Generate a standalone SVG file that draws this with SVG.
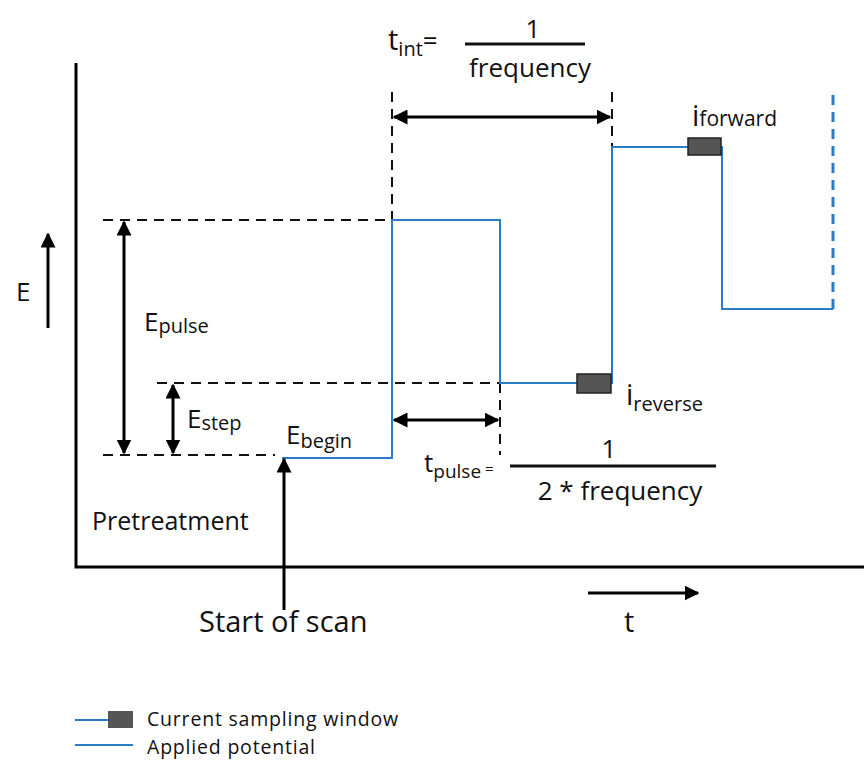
<svg xmlns="http://www.w3.org/2000/svg" width="864" height="763" viewBox="0 0 864 763">
<defs>
<marker id="ah" viewBox="0 0 10 10" refX="9" refY="5" markerWidth="15" markerHeight="15" markerUnits="userSpaceOnUse" orient="auto-start-reverse">
<path d="M0,0 L10,5 L0,10 z" fill="#000"/>
</marker>
<style>
text{font-family:"Open Sans","Noto Sans","Liberation Sans",sans-serif;fill:#111}
.t{font-size:26px}
.b{font-size:29px}
.s{font-size:20px}
.lg{font-size:19.5px;letter-spacing:0.8px}
.ax{stroke:#000;stroke-width:3;fill:none}
.dash{stroke:#111;stroke-width:2;stroke-dasharray:10 7;fill:none}
.arr{stroke:#000;stroke-width:3;fill:none}
.blue{stroke:#2b7cc7;stroke-width:2;fill:none}
.win{fill:#555;stroke:#222;stroke-width:1.5}
.frac{stroke:#111;stroke-width:3}
</style>
</defs>
<g id="axes">
<polyline class="ax" points="76,63 76,567 864,567"/>
</g>
<g id="guides">
<line class="dash" x1="103" y1="220" x2="392" y2="220"/>
<line class="dash" x1="157" y1="383" x2="500" y2="383"/>
<line class="dash" x1="103" y1="455" x2="275" y2="455"/>
<line class="dash" x1="392" y1="92" x2="392" y2="220"/>
<line class="dash" x1="612" y1="92" x2="612" y2="147"/>
<line class="dash" x1="500" y1="383" x2="500" y2="455"/>
</g>
<g id="potential">
<polyline class="blue" points="282,458 392,458 392,220 500,220 500,383 612,383 612,147 722,147 722,309 833,309"/>
<line x1="833" y1="309" x2="833" y2="92" stroke="#2b7cc7" stroke-width="3" stroke-dasharray="10 7"/>
</g>
<g id="windows">
<rect class="win" x="577" y="374" width="34" height="19"/>
<rect class="win" x="688" y="138" width="33" height="17"/>
</g>
<g id="connectors">
<line class="arr" x1="48" y1="328" x2="48" y2="234" marker-end="url(#ah)"/>
<line class="arr" x1="124" y1="222" x2="124" y2="453" marker-start="url(#ah)" marker-end="url(#ah)"/>
<line class="arr" x1="173" y1="385" x2="173" y2="453" marker-start="url(#ah)" marker-end="url(#ah)"/>
<line class="arr" x1="394" y1="117" x2="610" y2="117" marker-start="url(#ah)" marker-end="url(#ah)"/>
<line class="arr" x1="394" y1="420" x2="498" y2="420" marker-start="url(#ah)" marker-end="url(#ah)"/>
<line class="arr" x1="284" y1="610" x2="284" y2="459" marker-end="url(#ah)"/>
<line class="arr" x1="588" y1="593" x2="698" y2="593" marker-end="url(#ah)"/>
</g>
<g id="labels">
<text class="t" x="16" y="301">E</text>
<text class="b" x="388" y="50">t<tspan class="s" dy="6">int</tspan><tspan style="font-size:26px" dy="-6">=</tspan></text>
<text class="t" x="533" y="38" text-anchor="middle">1</text>
<line class="frac" x1="465" y1="44" x2="585" y2="44"/>
<text class="t" x="530" y="77" text-anchor="middle">frequency</text>
<text class="b" x="692" y="126">i<tspan class="s" style="font-size:21px">forward</tspan></text>
<text class="t" x="144" y="331">E<tspan class="s" dy="2">pulse</tspan></text>
<text class="t" x="187" y="428">E<tspan class="s" dy="2">step</tspan></text>
<text class="t" x="286" y="444">E<tspan class="s" dy="4">begin</tspan></text>
<text class="b" x="626" y="405">i<tspan class="s" dy="6">reverse</tspan></text>
<text class="t" x="424" y="472">t<tspan class="s" style="font-size:19px" dy="6">pulse</tspan><tspan style="font-size:15px" dy="-4"> =</tspan></text>
<text class="t" x="609" y="458" text-anchor="middle">1</text>
<line class="frac" x1="510" y1="466" x2="716" y2="466"/>
<text class="t" x="620" y="500" text-anchor="middle">2 * frequency</text>
<text x="92" y="530" style="font-size:25px">Pretreatment</text>
<text class="b" x="199" y="632">Start of scan</text>
<text class="b" x="624" y="632">t</text>
</g>
<g id="legend">
<line x1="75" y1="720" x2="110" y2="720" stroke="#2b7cc7" stroke-width="2"/>
<rect x="108" y="711" width="25" height="17" fill="#555"/>
<text class="lg" x="147" y="726">Current sampling window</text>
<line x1="75" y1="745" x2="133" y2="745" stroke="#2b7cc7" stroke-width="2"/>
<text class="lg" x="147" y="754">Applied  potential</text>
</g>
</svg>
